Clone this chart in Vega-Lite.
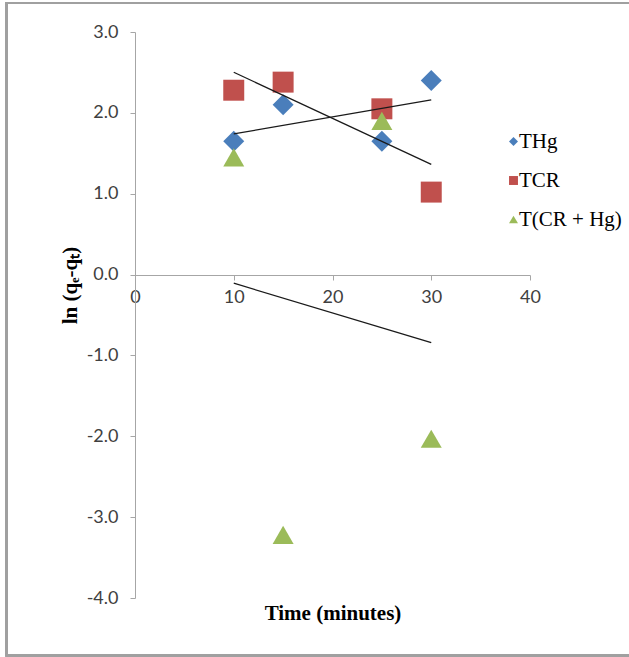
{
  "$schema": "https://vega.github.io/schema/vega-lite/v6.json",
  "autosize": "none",
  "width": 395,
  "height": 566,
  "padding": {"left": 135, "top": 32, "right": 99, "bottom": 59},
  "background": "white",
  "config": {
    "view": {"stroke": null},
    "axis": {
      "grid": false,
      "domainColor": "#a6a6a6",
      "tickColor": "#a6a6a6",
      "tickSize": 5,
      "labelFont": "Lato",
      "labelFontSize": 18,
      "labelColor": "#404040",
      "titleFont": "Liberation Serif",
      "titleFontSize": 21,
      "titleFontWeight": "bold",
      "titleColor": "#000000"
    }
  },
  "data": {
    "values": [
      {"series": "THg", "time": 10, "value": 1.65},
      {"series": "THg", "time": 15, "value": 2.1},
      {"series": "THg", "time": 25, "value": 1.65},
      {"series": "THg", "time": 30, "value": 2.4},
      {"series": "TCR", "time": 10, "value": 2.28},
      {"series": "TCR", "time": 15, "value": 2.38},
      {"series": "TCR", "time": 25, "value": 2.05},
      {"series": "TCR", "time": 30, "value": 1.02},
      {"series": "T(CR + Hg)", "time": 10, "value": 1.45},
      {"series": "T(CR + Hg)", "time": 15, "value": -3.22},
      {"series": "T(CR + Hg)", "time": 25, "value": 1.9},
      {"series": "T(CR + Hg)", "time": 30, "value": -2.03}
    ]
  },
  "layer": [
    {
      "mark": {"type": "rect", "fill": null, "stroke": "#a0a0a0", "strokeWidth": 2, "clip": false},
      "encoding": {
        "x": {"datum": -13.0, "type": "quantitative"},
        "x2": {"datum": 60},
        "y": {"datum": 3.36, "type": "quantitative"},
        "y2": {"datum": -4.71}
      }
    },
    {
      "mark": {"type": "point", "filled": true, "opacity": 1, "size": 440, "strokeWidth": 0},
      "encoding": {
        "x": {
          "field": "time",
          "type": "quantitative",
          "scale": {"domain": [0, 40], "nice": false},
          "axis": {
            "values": [0, 10, 20, 30, 40],
            "offset": -323,
            "labelPadding": 8,
            "labelFlush": false,
            "title": "Time (minutes)",
            "titlePadding": 296
          }
        },
        "y": {
          "field": "value",
          "type": "quantitative",
          "scale": {"domain": [-4, 3], "nice": false},
          "axis": {
            "values": [-4, -3, -2, -1, 0, 1, 2, 3],
            "labelExpr": "replace(format(datum.value, '.1f'), '−', '-')",
            "labelPadding": 12,
            "title": "ln (qₑ-qₜ)",
            "titlePadding": 6,
            "titleY": 253
          }
        },
        "color": {
          "field": "series",
          "type": "nominal",
          "scale": {"domain": ["THg", "TCR", "T(CR + Hg)"], "range": ["#4a7ebb", "#c0504d", "#9bbb59"]},
          "legend": {
            "title": null,
            "orient": "none",
            "legendX": 368,
            "legendY": 99,
            "labelFont": "Liberation Serif",
            "labelFontSize": 21,
            "labelColor": "#000000",
            "symbolSize": 80,
            "symbolStrokeWidth": 0,
            "rowPadding": 17,
            "labelOffset": -5
          }
        },
        "shape": {
          "field": "series",
          "type": "nominal",
          "scale": {"domain": ["THg", "TCR", "T(CR + Hg)"], "range": ["diamond", "square", "triangle-up"]},
          "legend": null
        }
      }
    },
    {
      "transform": [
        {"regression": "value", "on": "time", "groupby": ["series"]}
      ],
      "mark": {"type": "line", "color": "#1a1a1a", "strokeWidth": 1.3},
      "encoding": {
        "x": {"field": "time", "type": "quantitative"},
        "y": {"field": "value", "type": "quantitative"},
        "detail": {"field": "series", "type": "nominal"}
      }
    }
  ]
}
